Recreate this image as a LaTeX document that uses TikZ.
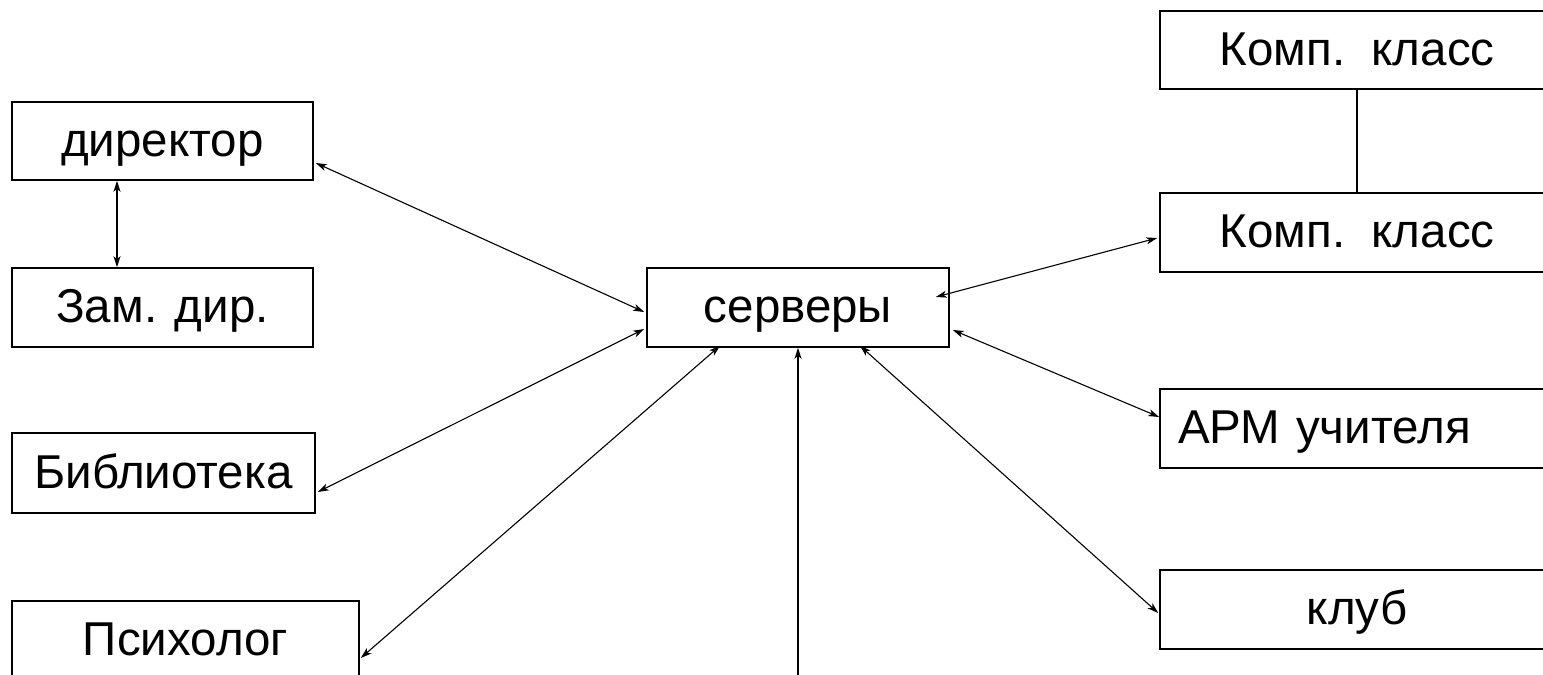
\documentclass[tikz,border=0pt]{standalone}
\usepackage{fontspec}
\setmainfont{Liberation Sans}
\usetikzlibrary{arrows.meta,calc}
\begin{document}
\begin{tikzpicture}[x=1pt,y=-1pt,
  box/.style={draw,line width=1.6pt,rectangle,inner sep=0pt,text height=30pt,text depth=0pt,font=\fontsize{47.5}{52}\selectfont},
  conn/.style={line width=1.1pt,{Stealth[length=11pt,width=7pt,inset=3pt]}-{Stealth[length=11pt,width=7pt,inset=3pt]}},
  plain/.style={line width=1.3pt}]
\useasboundingbox (0,0) rectangle (1543,675);
\node[box,minimum width=301pt,minimum height=78pt] (dir) at (162.5,141) {директор};
\node[box,minimum width=301pt,minimum height=79pt] (zam) at (162.5,307.5) {Зам. дир.};
\node[box,minimum width=303pt,minimum height=80pt] (bib) at (163.5,473) {Библиотека};
\node[box,minimum width=347pt,minimum height=79pt] (psy) at (185.5,640.5) {Психолог};
\node[box,minimum width=302pt,minimum height=79pt] (srv) at (798,307.5) {серверы};
\node[box,minimum width=394pt,minimum height=78pt] (k1) at (1357,50) {Комп.\ \ класс};
\node[box,minimum width=394pt,minimum height=79pt] (k2) at (1357,232.5) {Комп.\ \ класс};
\node[box,minimum width=394pt,minimum height=79pt,text width=358pt,align=left] (arm) at (1357,428.5) {АРМ учителя};
\node[box,minimum width=394pt,minimum height=79pt] (club) at (1357,609.5) {клуб};
\coordinate (bot) at (798,680);
% connectors
\draw[conn] (dir.south) ++(-45.5,0) coordinate (ds) -- (zam.north -| ds);
\draw[conn] ($(dir.east)+(2,22)$) -- ($(srv.west)+(-2,4.5)$);
\draw[conn] ($(bib.east)+(2,19)$) -- ($(srv.west)+(-2,21.5)$);
\draw[conn] ($(psy.east)+(1,17.5)$) -- ($(srv.south)+(-78,-2)$);
\draw[conn] ($(club.west)+(-1,3.5)$) -- ($(srv.south)+(62,-2)$);
\draw[conn] ($(arm.west)+(0,-11.5)$) -- ($(srv.east)+(3,22.5)$);
\draw[conn] ($(k2.west)+(-2,5.5)$) -- ($(srv.east)+(-14,-10.5)$);
\draw[line width=1.3pt,-{Stealth[length=11pt,width=7pt,inset=3pt]}] (bot) -- (srv.south);
\draw[plain] (k1.south) -- (k2.north);
\end{tikzpicture}
\end{document}
